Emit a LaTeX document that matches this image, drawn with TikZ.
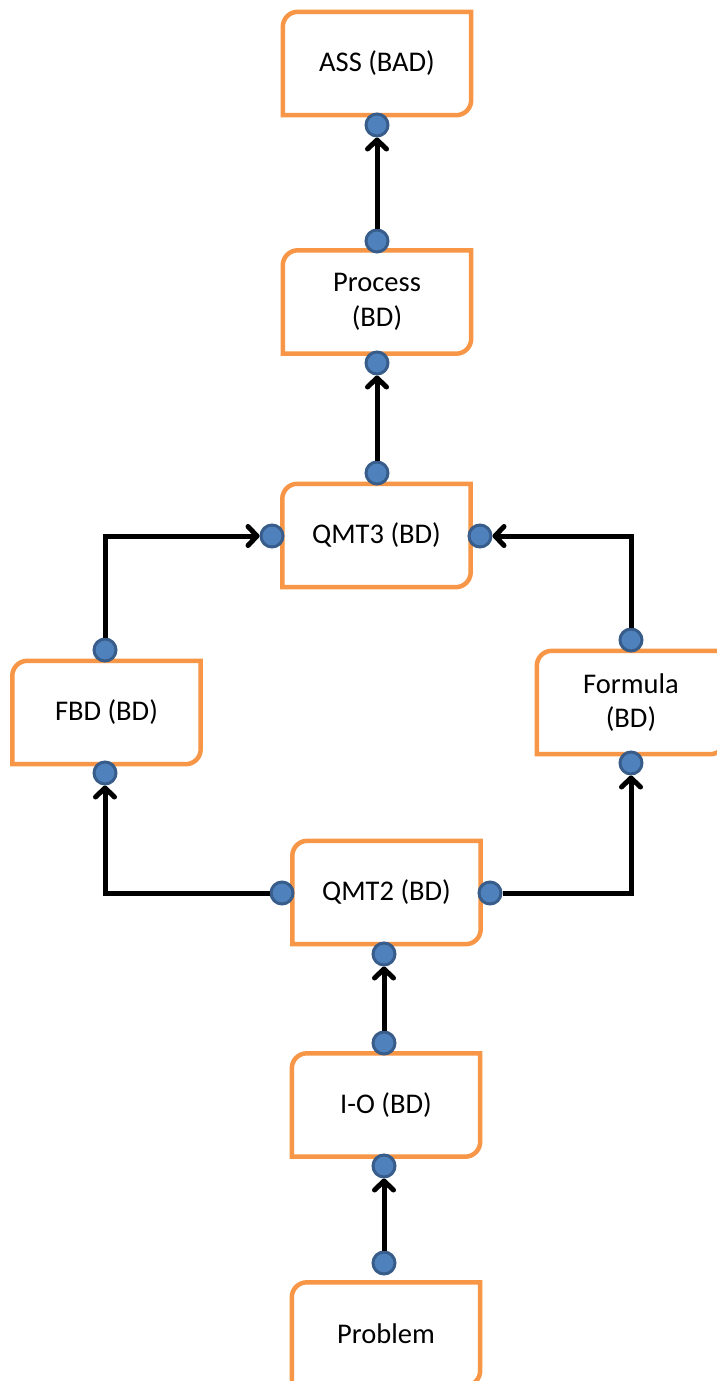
\documentclass[tikz,border=0pt]{standalone}
\usepackage{fontspec}
\setmainfont{Carlito}
\usetikzlibrary{arrows.meta}
\definecolor{boxorange}{HTML}{F79646}
\definecolor{dotfill}{HTML}{4F81BD}
\definecolor{dotline}{HTML}{385D8A}
\newcommand\diagbox[1]{%
  \draw[boxline] ([yshift=-15pt]#1.north west) arc[start angle=180,end angle=90,radius=15pt]
    -- (#1.north east) -- ([yshift=15pt]#1.south east)
    arc[start angle=0,end angle=-90,radius=15pt] -- (#1.south west) -- cycle;}
\begin{document}
\begin{tikzpicture}[x=1pt,y=1pt,
  boxline/.style={draw=boxorange,line width=4.5pt,line join=miter},
  stepbox/.style={draw=none,fill=white,inner sep=0pt,minimum width=188pt,minimum height=103pt,
    align=center,font=\fontsize{28.5}{34.5}\selectfont},
  dot/.style={circle,draw=dotline,fill=dotfill,line width=3pt,minimum size=22pt,inner sep=0pt},
  arr/.style={draw=black,line width=5pt,line join=miter,
    -{Straight Barb[length=9pt,width=19pt,line cap=round,line join=round]}}]
\useasboundingbox (0,0) rectangle (717,-1381);
\clip (0,0) rectangle (717,-1381);
% boxes
\node[stepbox] (ass) at (377,-63.5) {ASS (BAD)};
\node[stepbox] (proc) at (377,-302) {Process\\(BD)};
\node[stepbox] (qmt3) at (376.5,-535.5) {QMT3 (BD)};
\node[stepbox] (fbd) at (106.5,-712.5) {FBD (BD)};
\node[stepbox] (form) at (631,-702.5) {Formula\\(BD)};
\node[stepbox] (qmt2) at (386.5,-892.5) {QMT2 (BD)};
\node[stepbox] (io) at (386,-1105) {I-O (BD)};
\node[stepbox] (prob) at (386,-1334) {Problem};
\foreach \b in {ass,proc,qmt3,fbd,form,qmt2,io,prob}{\diagbox{\b}}
% connection dots
\node[dot] (assB) at (377,-125) {};
\node[dot] (procT) at (377,-241) {};
\node[dot] (procB) at (377,-363) {};
\node[dot] (q3T) at (377,-473) {};
\node[dot] (q3L) at (272,-536) {};
\node[dot] (q3R) at (480,-536) {};
\node[dot] (fbdT) at (105,-650) {};
\node[dot] (fbdB) at (105,-773) {};
\node[dot] (forT) at (631,-640) {};
\node[dot] (forB) at (631,-763) {};
\node[dot] (q2L) at (282,-893) {};
\node[dot] (q2R) at (490,-893) {};
\node[dot] (q2B) at (384,-954) {};
\node[dot] (ioT) at (384,-1043) {};
\node[dot] (ioB) at (384,-1166) {};
\node[dot] (probT) at (384,-1263) {};
% connectors
\draw[arr] (procT) -- (assB);
\draw[arr] (q3T) -- (procB);
\draw[arr] (fbdT) |- (q3L);
\draw[arr] (forT) |- (q3R);
\draw[arr] (q2L) -| (fbdB);
\draw[arr] (q2R) -| (forB);
\draw[arr] (ioT) -- (q2B);
\draw[arr] (probT) -- (ioB);
\end{tikzpicture}
\end{document}
